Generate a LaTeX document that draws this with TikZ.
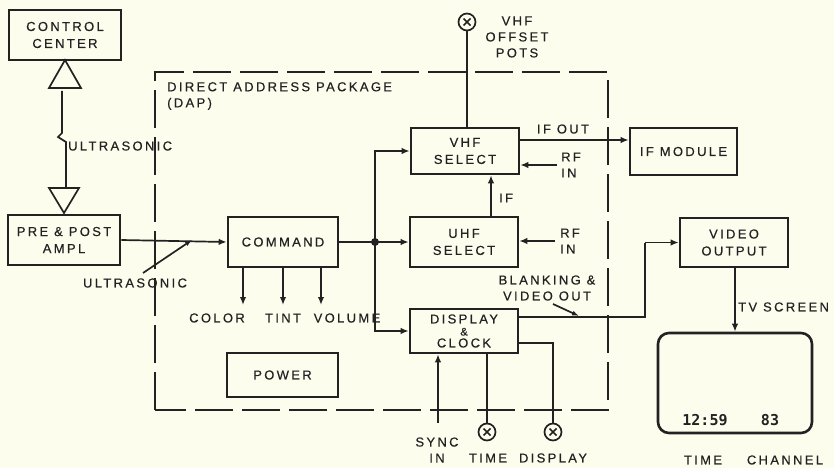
\documentclass[tikz,border=0pt]{standalone}
\usepackage{fontspec}
\setmainfont{Liberation Sans}[LetterSpace=18,FakeBold=0.4]
\newfontfamily\segfont{DejaVu Sans Mono Bold}
\usetikzlibrary{arrows.meta,calc}
\definecolor{bg}{RGB}{253,253,238}
\definecolor{ink}{RGB}{34,34,34}
\begin{document}
\begin{tikzpicture}[x=1pt,y=-1pt,
  every node/.style={text=ink},
  box/.style={draw=ink, line width=2.6pt, inner sep=0pt, align=center, font=\fontsize{13}{17}\selectfont},
  lbl/.style={inner sep=0pt, align=center, font=\fontsize{13}{16}\selectfont},
  con/.style={draw=ink, line width=1.7pt},
  arr/.style={con, -{Latex[length=8pt,width=6.5pt]}},
  pot/.style={circle, draw=ink, line width=1.7pt, minimum size=17pt, inner sep=0pt,
    path picture={\draw[ink, line width=1.7pt]
      ($(path picture bounding box.center)+(-3.5,-3.5)$) -- ++(7,7)
      ($(path picture bounding box.center)+(-3.5,3.5)$) -- ++(7,-7);}},
  tri/.style={draw=ink, line width=1.7pt, line join=miter}]
\fill[bg] (0,0) rectangle (834,468);
\useasboundingbox (0,0) rectangle (834,468);

% dashed package outline
\draw[ink, line width=1.7pt, dash pattern=on 38pt off 9pt] (155,410) -- (155,72) -- (608,72) -- (608,410) -- cycle;
\node[lbl, anchor=north west, align=left] (dap) at (167,82) {DIRECT ADDRESS PACKAGE\\(DAP)};

% boxes
\node[box, minimum width=112pt, minimum height=50pt] (cc) at (65,35) {CONTROL\\CENTER};
\node[box, minimum width=112pt, minimum height=50pt] (pre) at (64,240) {PRE \& POST\\AMPL};
\node[box, minimum width=110pt, minimum height=50pt] (cmd) at (283,242) {COMMAND};
\node[box, minimum width=111pt, minimum height=44pt] (pow) at (282.5,375) {POWER};
\node[box, minimum width=108pt, minimum height=46pt] (vhf) at (465,151) {VHF\\SELECT};
\node[box, minimum width=108pt, minimum height=50pt] (uhf) at (464,242) {UHF\\SELECT};
\node[box, minimum width=108pt, minimum height=44pt] (disp) at (464,331)
  {DISPLAY\\[-5pt]{\fontsize{11}{12}\selectfont\&}\\[-5pt]CLOCK};
\node[box, minimum width=107pt, minimum height=47pt] (ifm) at (683.5,151.5) {IF MODULE};
\node[box, minimum width=108pt, minimum height=49pt] (vo) at (734,242.5) {VIDEO\\OUTPUT};
\node[draw=ink, line width=2.6pt, rounded corners=11pt, minimum width=154pt, minimum height=100pt] (tv) at (735,383) {};

% ultrasonic link
\coordinate (t1a) at (65,60);
\coordinate (t1l) at (49,88);
\coordinate (t1r) at (81,88);
\draw[tri] (t1a) -- (t1l) -- (t1r) -- cycle;
\coordinate (t2a) at (64,213);
\coordinate (t2l) at (49,188);
\coordinate (t2r) at (79,188);
\draw[tri] (t2a) -- (t2l) -- (t2r) -- cycle;
\coordinate (u1) at (62,91);
\coordinate (u2) at (62,133);
\coordinate (u3) at (58,137);
\coordinate (u4) at (66,142);
\coordinate (u5) at (66,188);
\draw[con] (u1) -- (u2) -- (u3) -- (u4) -- (u5);
\node[lbl, anchor=west] (ul1) at (68,146) {ULTRASONIC};

% pre -> command
\draw[arr] (pre.east) -- (cmd.west);
\coordinate (us0) at (143,273);
\coordinate (us1) at (192,240);
\draw[con, -{Latex[length=7pt,width=5pt]}] (us0) -- (us1);
\node[lbl] (ul2) at (135,283) {ULTRASONIC};

% command outputs
\node[lbl] (color) at (217,318) {COLOR};
\node[lbl] (tint) at (283,318) {TINT};
\node[lbl] (vol) at (347,318) {VOLUME};
\coordinate (c1) at (243,305);
\coordinate (c2) at (283,305);
\coordinate (c3) at (321,305);
\draw[arr] (cmd.south -| c1) -- (c1);
\draw[arr] (cmd.south -| c2) -- (c2);
\draw[arr] (cmd.south -| c3) -- (c3);

% junction
\coordinate (j) at (375,242);
\coordinate (jv) at (375,151);
\coordinate (jd) at (375,331);
\draw[con] (cmd.east) -- (j);
\draw[arr] (j) -- (uhf.west);
\draw[arr] (j) -- (jv) -- (vhf.west);
\draw[arr] (j) -- (jd) -- (disp.west);
\fill[ink] (j) circle (4pt);

% VHF pots
\node[pot] (vp) at (467,22) {};
\draw[con] (vp.south) -- (vp.south |- vhf.north);
\node[lbl] (vpl) at (517,37) {VHF\\OFFSET\\POTS};

% IF
\coordinate (ifx) at (491,0);
\draw[arr] (uhf.north -| ifx) -- (vhf.south -| ifx);
\node[lbl, anchor=west] (ifl) at (499,198) {IF};

% IF out
\coordinate (io) at (0,140);
\draw[arr] (vhf.east |- io) -- (ifm.west |- io);
\node[lbl] (iol) at (563,129) {IF OUT};

% RF in
\coordinate (rf1) at (557,165);
\draw[arr] (rf1) -- (vhf.east |- rf1);
\node[lbl, anchor=west, align=left] (rf1l) at (561,165) {RF\\IN};
\coordinate (rf2) at (555,241);
\draw[arr] (rf2) -- (uhf.east |- rf2);
\node[lbl, anchor=west, align=left] (rf2l) at (560,241) {RF\\IN};

% display out
\coordinate (d1) at (0,317);
\coordinate (d2) at (645,317);
\coordinate (d3) at (645,242.5);
\draw[con] (disp.east |- d1) -- (d2) -- (d3);
\draw[arr] (d3) -- (vo.west);
\node[lbl] (bvl) at (547,288) {BLANKING \&\\VIDEO OUT};
\coordinate (bp0) at (553,304);
\coordinate (bp1) at (579,316);
\draw[con, -{Latex[length=7pt,width=5pt]}] (bp0) -- (bp1);

% video output -> TV
\draw[arr] (vo.south -| tv.north) -- (tv.north);
\node[lbl, anchor=west] (tvl) at (738,307) {TV SCREEN};
\node[inner sep=0pt, font=\segfont\fontsize{15}{16}\selectfont] (tm) at (705,420) {12:59};
\node[inner sep=0pt, font=\segfont\fontsize{15}{16}\selectfont] (ch) at (770,420) {83};
\node[lbl] (tml) at (703,460) {TIME};
\node[lbl] (chl) at (785,460) {CHANNEL};

% display inputs / pots
\coordinate (sy) at (438,423);
\draw[arr] (sy) -- (disp.south -| sy);
\node[lbl] (syl) at (437,450) {SYNC\\IN};
\node[pot] (tp) at (487,432) {};
\draw[con] (disp.south -| tp) -- (tp.north);
\node[lbl] (tpl) at (488,458) {TIME};
\node[pot] (dp) at (553,432) {};
\coordinate (dd) at (0,343);
\draw[con] (disp.east |- dd) -- (dp.north |- dd) -- (dp.north);
\node[lbl] (dpl) at (553,458) {DISPLAY};
\end{tikzpicture}
\end{document}
